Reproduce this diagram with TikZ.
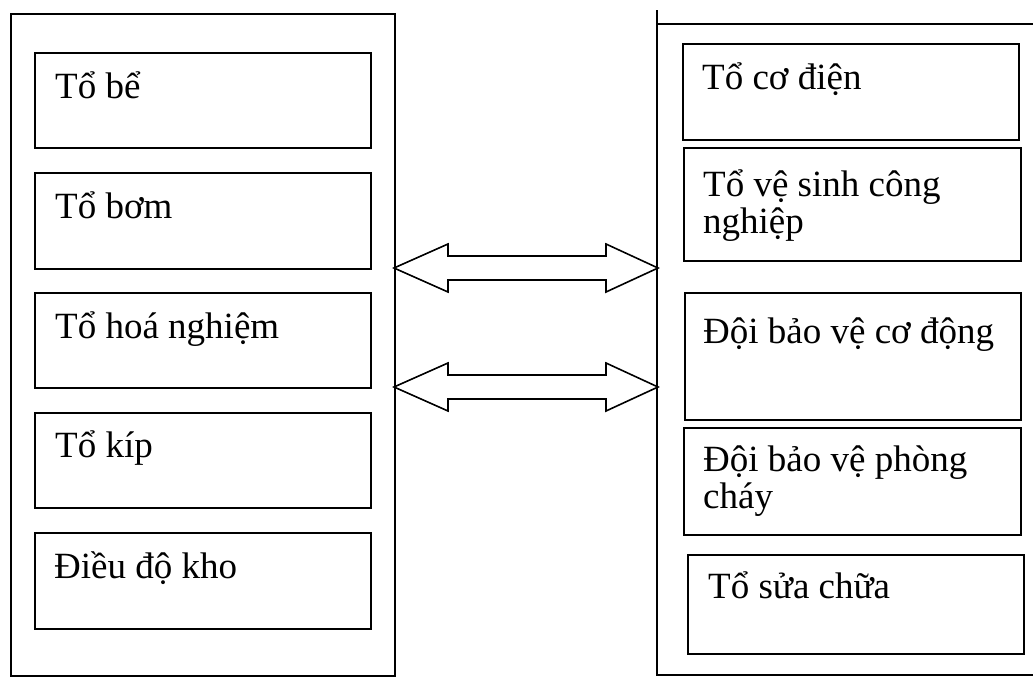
\documentclass[tikz,border=0pt]{standalone}
\usepackage{fontspec}
\setmainfont{Liberation Serif}
\usetikzlibrary{calc}
\begin{document}
\begin{tikzpicture}[x=1pt,y=-1pt,
  frame/.style={line width=2.3pt, line cap=rect},
  unitbox/.style={draw, line width=1.7pt, anchor=north west, inner sep=0pt, minimum width=336pt},
  lbl/.style={anchor=base west, inner sep=0pt, font=\fontsize{37}{37}\selectfont, align=left},
  dblarrow/.style={draw, line width=1.6pt, fill=white, line join=miter}]
\useasboundingbox (0,0) rectangle (1033,677);

% left frame
\node[draw, line width=2.3pt, anchor=north west, inner sep=0pt, minimum width=384pt, minimum height=662pt] (L) at (10,13) {};

% right frame (open on the right)
\coordinate (Rtop) at (657,11);
\coordinate (Rcorner) at (657,24);
\coordinate (Rend) at (1033,24);
\coordinate (Rbot) at (657,675);
\coordinate (Rbotend) at (1033,675);
\draw[frame] (Rend) -- (Rcorner);
\draw[frame] (Rtop) -- (Rbot) -- (Rbotend);

% left boxes
\node[unitbox, minimum height=95pt] (l1) at (34,52) {};
\node[unitbox, minimum height=96pt] (l2) at (34,172) {};
\node[unitbox, minimum height=95pt] (l3) at (34,292) {};
\node[unitbox, minimum height=95pt] (l4) at (34,412) {};
\node[unitbox, minimum height=96pt] (l5) at (34,532) {};
\node[lbl] (t1) at (55,99) {Tổ bể};
\node[lbl] (t2) at (55,218) {Tổ bơm};
\node[lbl] (t3) at (55,338) {Tổ hoá nghiệm};
\node[lbl] (t4) at (55,457) {Tổ kíp};
\node[lbl] (t5) at (54,578) {Điều độ kho};

% right boxes
\node[unitbox, minimum height=96pt] (r1) at (682,43) {};
\node[unitbox, minimum width=337pt, minimum height=113pt] (r2) at (683,147) {};
\node[unitbox, minimum height=127pt] (r3) at (684,292) {};
\node[unitbox, minimum width=337pt, minimum height=107pt] (r4) at (683,427) {};
\node[unitbox, minimum height=99pt] (r5) at (687,554) {};
\node[lbl] (s1) at (702,89) {Tổ cơ điện};
\node[lbl] (s2) at (703,233) {Tổ vệ sinh công\\nghiệp};
\node[lbl] (s3) at (703,343) {Đội bảo vệ cơ động};
\node[lbl] (s4) at (703,508) {Đội bảo vệ phòng\\cháy};
\node[lbl] (s5) at (708,598) {Tổ sửa chữa};

% double arrows between the two frames
\coordinate (a1l) at (394,268);
\coordinate (a1r) at (658,268);
\coordinate (a2l) at (394,387);
\coordinate (a2r) at (658,387);
\foreach \p/\q in {a1l/a1r, a2l/a2r}{
  \draw[dblarrow] (\p) -- ++(54,-24) -- ++(0,12) -- ($(\q)+(-52,-12)$) -- ++(0,-12) -- (\q)
    -- ++(-52,24) -- ++(0,-12) -- ($(\p)+(54,12)$) -- ++(0,12) -- cycle;
}
\end{tikzpicture}
\end{document}
